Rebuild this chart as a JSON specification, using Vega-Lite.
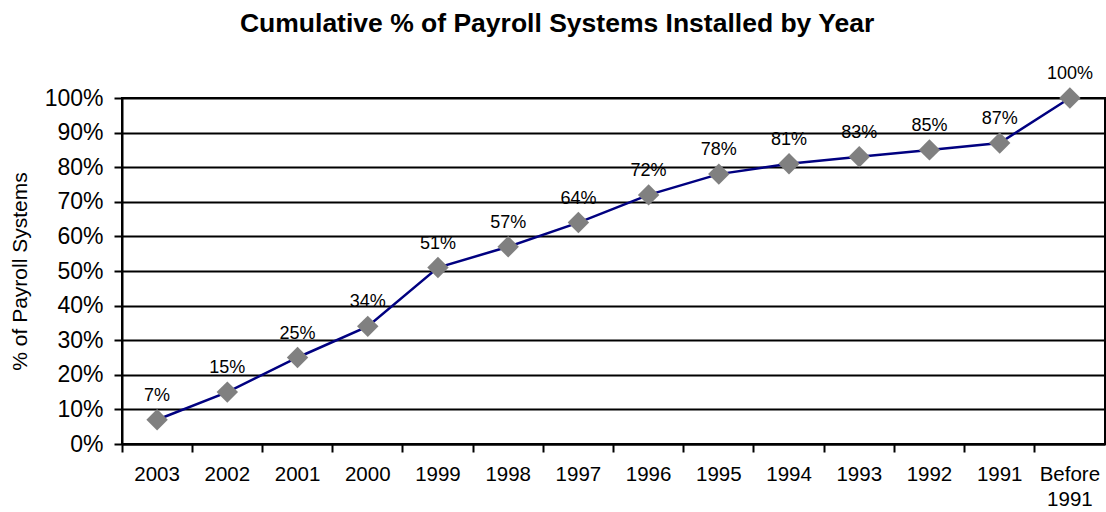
{
  "$schema": "https://vega.github.io/schema/vega-lite/v6.json",
  "autosize": {"type": "none"},
  "padding": {"left": 122, "top": 98, "right": 1, "bottom": 68},
  "width": 983,
  "height": 346,
  "background": "white",
  "config": {
    "font": "Liberation Sans",
    "view": {"stroke": "black", "strokeWidth": 2}
  },
  "title": {
    "text": "Cumulative % of Payroll Systems Installed by Year",
    "font": "Liberation Sans",
    "fontSize": 26.5,
    "fontWeight": "bold",
    "color": "black",
    "anchor": "middle",
    "frame": "bounds",
    "offset": 28
  },
  "data": {
    "values": [
      {"year": "2003", "pct": 7},
      {"year": "2002", "pct": 15},
      {"year": "2001", "pct": 25},
      {"year": "2000", "pct": 34},
      {"year": "1999", "pct": 51},
      {"year": "1998", "pct": 57},
      {"year": "1997", "pct": 64},
      {"year": "1996", "pct": 72},
      {"year": "1995", "pct": 78},
      {"year": "1994", "pct": 81},
      {"year": "1993", "pct": 83},
      {"year": "1992", "pct": 85},
      {"year": "1991", "pct": 87},
      {"year": "Before 1991", "pct": 100}
    ]
  },
  "encoding": {
    "x": {
      "field": "year",
      "type": "nominal",
      "sort": null,
      "scale": {"type": "band", "paddingInner": 0, "paddingOuter": 0},
      "axis": {
        "title": null,
        "labelAngle": 0,
        "labelFontSize": 20.5,
        "labelColor": "black",
        "labelPadding": 12,
        "labelExpr": "datum.value == 'Before 1991' ? ['Before', '1991'] : datum.value",
        "labelLineHeight": 25,
        "bandPosition": 0,
        "tickColor": "black",
        "tickWidth": 2,
        "tickSize": 8,
        "domainColor": "black",
        "domainWidth": 2,
        "grid": false
      }
    },
    "y": {
      "field": "pct",
      "type": "quantitative",
      "scale": {"domain": [0, 100]},
      "axis": {
        "title": "% of Payroll Systems",
        "titleFontSize": 21,
        "titleFontWeight": "normal",
        "titleColor": "black",
        "titlePadding": 14,
        "values": [0, 10, 20, 30, 40, 50, 60, 70, 80, 90, 100],
        "labelExpr": "datum.value + '%'",
        "labelFontSize": 23,
        "labelColor": "black",
        "labelPadding": 11,
        "tickColor": "black",
        "tickWidth": 2,
        "tickSize": 8,
        "domainColor": "black",
        "domainWidth": 2,
        "grid": true,
        "gridColor": "black",
        "gridWidth": 2,
        "gridOpacity": 1
      }
    }
  },
  "layer": [
    {
      "mark": {"type": "line", "color": "#000080", "strokeWidth": 2.5}
    },
    {
      "mark": {"type": "point", "shape": "diamond", "filled": true, "color": "#808080", "opacity": 1, "size": 460}
    },
    {
      "mark": {"type": "text", "fontSize": 18, "color": "black", "baseline": "middle", "dy": -24, "text": {"expr": "datum.pct + '%'"}}
    }
  ]
}
